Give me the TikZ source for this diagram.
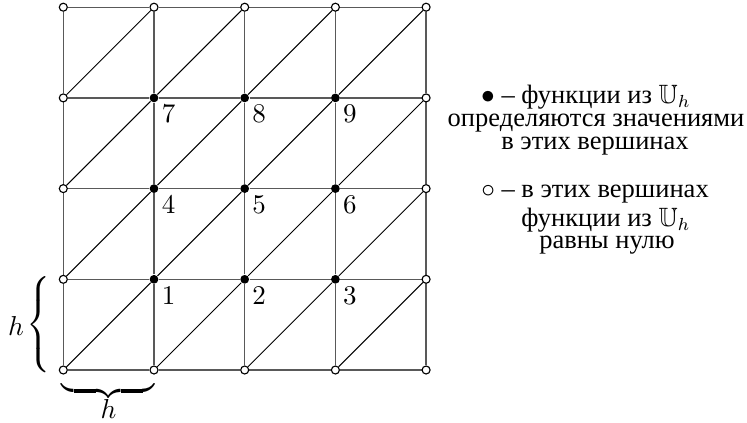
\documentclass[tikz,border=0pt]{standalone}
\usepackage{amssymb}
\usepackage{fontspec}
\newfontfamily\cyr{Liberation Serif}
\usetikzlibrary{backgrounds}
\begin{document}
\begin{tikzpicture}[x=0.4pt,y=-0.4pt,
  gridline/.style={draw=black!65,line width=0.55pt},
  diagline/.style={draw=black,line width=0.4pt},
  zeronode/.style={circle,draw=black,fill=white,line width=0.45pt,inner sep=0pt,minimum size=3.2pt},
  freenode/.style={circle,fill=black,inner sep=0pt,minimum size=3.5pt},
  num/.style={font=\fontsize{10.8}{12}\selectfont,inner sep=0pt},
  txt/.style={font=\cyr\fontsize{10.6}{12}\selectfont,inner sep=0pt,anchor=base}]
\useasboundingbox (0,0) rectangle (747,422);
% vertices
\foreach \i in {0,...,4}{
  \foreach \j in {0,...,4}{
    \pgfmathtruncatemacro\inn{(\i>0)&&(\i<4)&&(\j>0)&&(\j<4)}
    \ifnum\inn=1
      \node[freenode] (v\i\j) at ({63.3+90.7*\i},{370-90.7*\j}) {};
    \else
      \node[zeronode] (v\i\j) at ({63.3+90.7*\i},{370-90.7*\j}) {};
    \fi
  }
}
% edges
\begin{scope}[on background layer]
\foreach \i in {0,...,4}{
  \foreach \j in {0,...,3}{
    \pgfmathtruncatemacro\jj{\j+1}
    \draw[gridline] (v\i\j) -- (v\i\jj);
    \draw[gridline] (v\j\i) -- (v\jj\i);
  }
}
\foreach \i in {0,...,3}{
  \foreach \j in {0,...,3}{
    \pgfmathtruncatemacro\ii{\i+1}
    \pgfmathtruncatemacro\jj{\j+1}
    \draw[diagline] (v\i\j) -- (v\ii\jj);
  }
}
\end{scope}
% numbers
\node[num] (n1) at ([shift={(14.5,16)}]v11) {1};
\node[num] (n2) at ([shift={(14.5,16)}]v21) {2};
\node[num] (n3) at ([shift={(14.5,16)}]v31) {3};
\node[num] (n4) at ([shift={(14.5,16)}]v12) {4};
\node[num] (n5) at ([shift={(14.5,16)}]v22) {5};
\node[num] (n6) at ([shift={(14.5,16)}]v32) {6};
\node[num] (n7) at ([shift={(14.5,16)}]v13) {7};
\node[num] (n8) at ([shift={(14.5,16)}]v23) {8};
\node[num] (n9) at ([shift={(14.5,16)}]v33) {9};
% braces
\node[num] (bl) at (40,325) {$\left\{\vrule height 17pt depth 17pt width 0pt\right.$};
\node[num,anchor=base] (hl) at (16,335) {$h$};
\node[num] (bb) at (108.5,391) {$\underbrace{\hbox to 37.2pt{}}$};
\node[num,anchor=base] (hb) at (108.5,418) {$h$};
% legend
\node[txt] (a1) at (586,103) {$\bullet$ – функции из $\mathbb{U}_h$};
\node[txt] (a2) at (596,126) {определяются значениями};
\node[txt] (a3) at (595,149) {в этих вершинах};
\node[txt] (b1) at (595,197) {$\circ$ – в этих вершинах};
\node[txt] (b2) at (606,226) {функции из $\mathbb{U}_h$};
\node[txt] (b3) at (607,248) {равны нулю};
\end{tikzpicture}
\end{document}
